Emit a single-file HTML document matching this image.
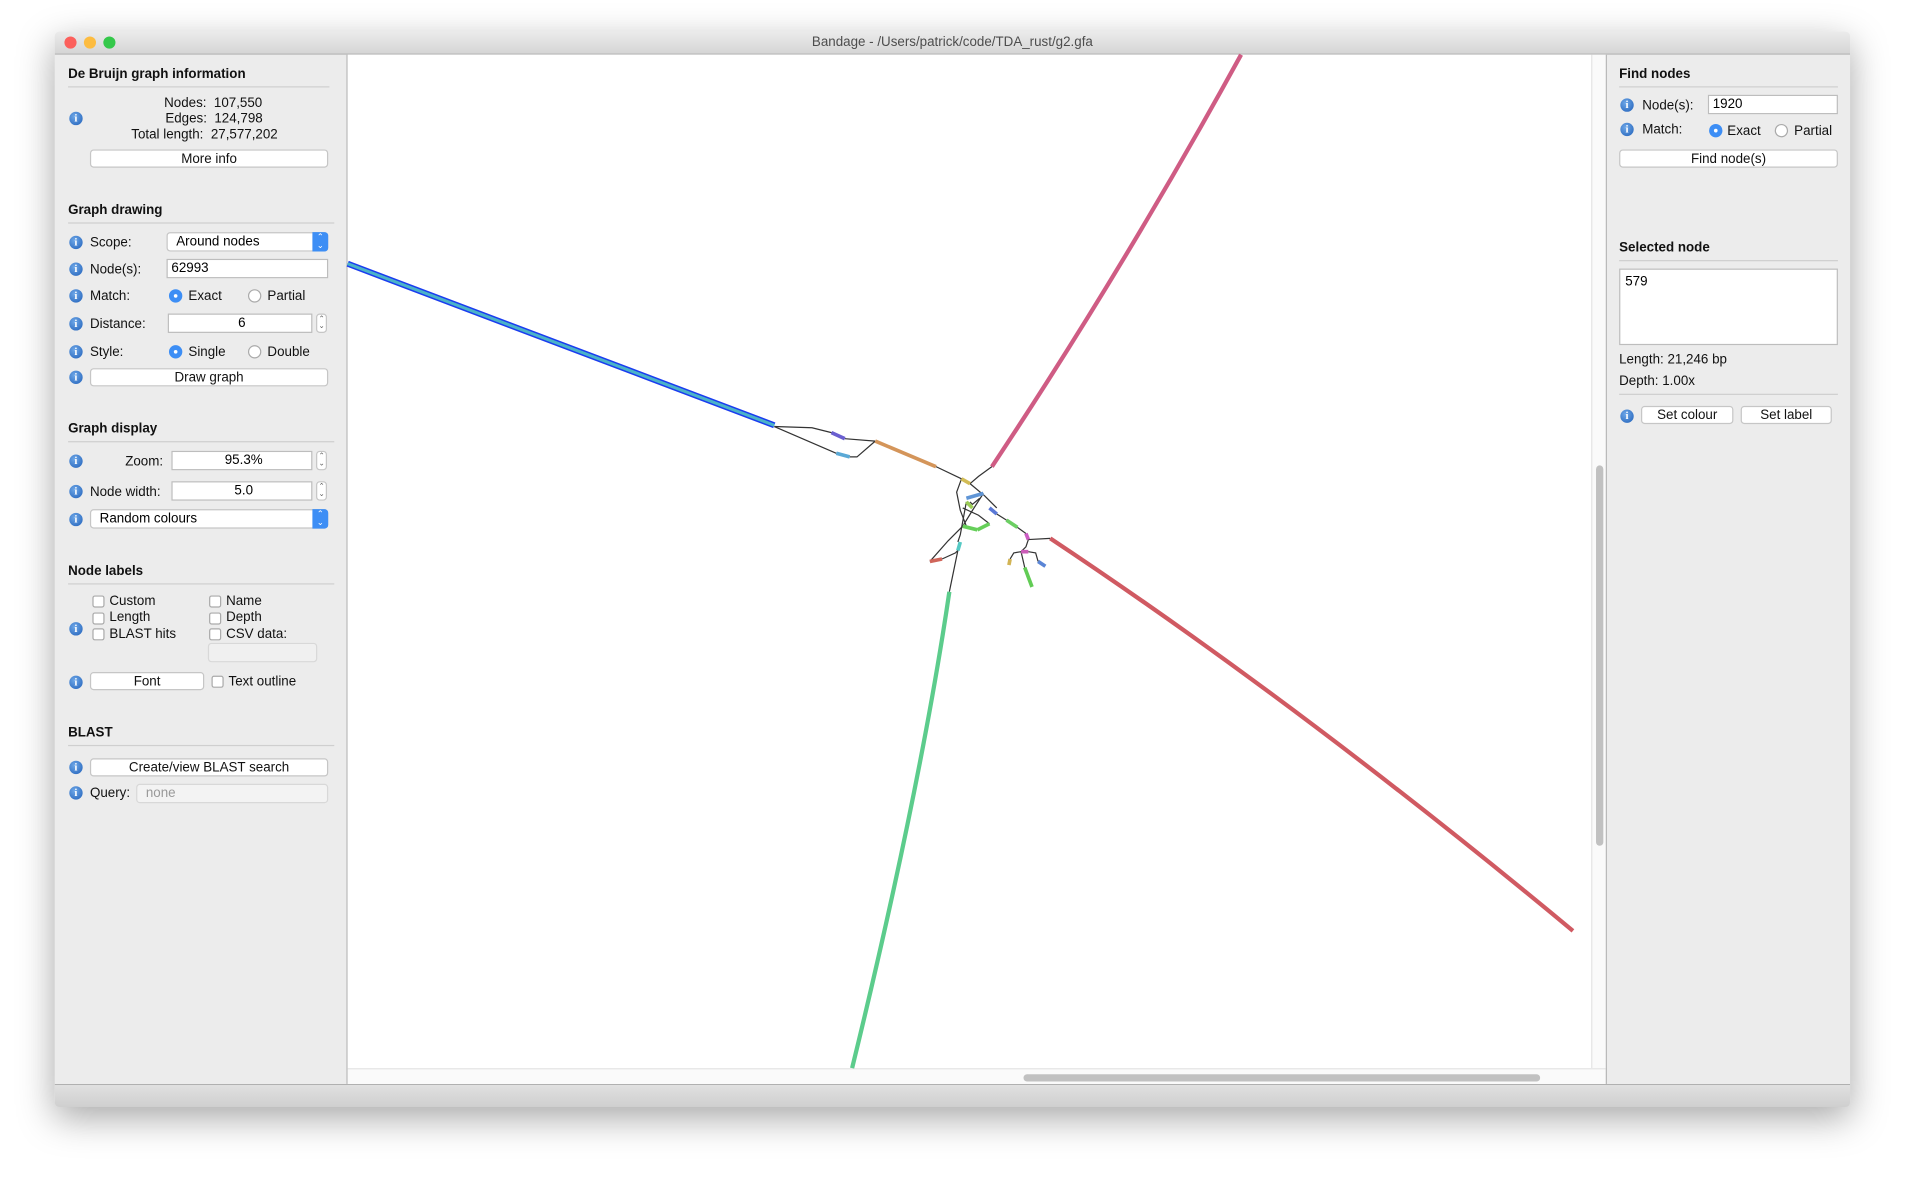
<!DOCTYPE html>
<html><head><meta charset="utf-8">
<style>
html,body{margin:0;padding:0;background:#fff;width:1906px;height:1186px;overflow:hidden;font-family:"Liberation Sans",sans-serif;}
#wrap{position:absolute;left:0;top:0;width:1568px;height:976px;transform:scale(1.21556,1.2152);transform-origin:0 0;}
#win{position:absolute;left:45px;top:26px;width:1477px;height:884px;background:#ececec;box-shadow:0 10px 30px rgba(0,0,0,0.35);border-radius:4px;overflow:hidden;}
#title{position:absolute;left:0;top:0;width:1477px;height:18px;background:linear-gradient(#ebebeb,#d5d5d5);border-bottom:1px solid #b8b8b8;font-size:11px;color:#4d4d4d;text-align:center;line-height:19px;}
.dot{position:absolute;top:4px;width:10px;height:10px;border-radius:50%;}
.a{position:absolute;font-size:11px;color:#111;white-space:nowrap;}
.h{position:absolute;font-size:11px;font-weight:bold;color:#111;}
.hr{position:absolute;height:1px;background:#cfcfcf;}
.info{position:absolute;width:11px;height:11px;border-radius:50%;background:radial-gradient(circle at 40% 35%,#6fa8e8,#1f5fb8);color:#fff;font-size:9px;font-weight:bold;text-align:center;line-height:11px;font-family:"Liberation Serif",serif;}
.btn{position:absolute;height:15px;background:#fff;border:1px solid #c6c6c6;border-radius:3px;font-size:11px;text-align:center;line-height:15px;color:#111;box-sizing:border-box;}
.inp{position:absolute;height:16px;background:#fff;border:1px solid #bdbdbd;font-size:11px;line-height:15px;box-sizing:border-box;padding-left:3px;}
.sel{position:absolute;height:16px;background:#fff;border:1px solid #c6c6c6;border-radius:3px;font-size:11px;line-height:15px;box-sizing:border-box;padding-left:7px;}
.selarr{position:absolute;right:-1px;top:-1px;width:13px;height:16px;background:#3d8ef5;border-radius:0 3px 3px 0;color:#fff;font-size:7px;line-height:7px;text-align:center;padding-top:1px;box-sizing:border-box;}
.radio{position:absolute;width:11px;height:11px;border-radius:50%;border:1px solid #aaa;background:#fff;box-sizing:border-box;}
.radio.on{background:#3d8ef5;border-color:#3d8ef5;}
.radio.on:after{content:"";position:absolute;left:3px;top:3px;width:3px;height:3px;border-radius:50%;background:#fff;}
.chk{position:absolute;width:10px;height:10px;border:1px solid #aaa;border-radius:2px;background:#fff;box-sizing:border-box;}
.spin{position:absolute;width:9px;height:16px;border:1px solid #c6c6c6;border-radius:3px;background:#fff;font-size:6px;line-height:6px;text-align:center;color:#555;box-sizing:border-box;padding-top:1px;}
</style></head><body>
<div id="wrap">
<div id="win">
 <div id="title">Bandage - /Users/patrick/code/TDA_rust/g2.gfa
  <div class="dot" style="left:8px;background:#fc605c"></div>
  <div class="dot" style="left:24px;background:#fdbc40"></div>
  <div class="dot" style="left:40px;background:#34c84a"></div>
 </div>
</div>
<!-- left panel (absolute in page coords) -->
<div>
 <div class="h" style="left:56px;top:55px">De Bruijn graph information</div>
 <div class="hr" style="left:56px;top:71px;width:215px"></div>
 <div class="info" style="left:57px;top:92px">i</div>
 <div class="a" style="left:135px;top:79px">Nodes:&nbsp; 107,550</div>
 <div class="a" style="left:136px;top:92px">Edges:&nbsp; 124,798</div>
 <div class="a" style="left:108px;top:105px">Total length:&nbsp; 27,577,202</div>
 <div class="btn" style="left:74px;top:123px;width:196px">More info</div>

 <div class="h" style="left:56px;top:167px">Graph drawing</div>
 <div class="hr" style="left:56px;top:183px;width:219px"></div>
 <div class="info" style="left:57px;top:194px">i</div><div class="a" style="left:74px;top:194px">Scope:</div>
 <div class="sel" style="left:137px;top:191px;width:133px">Around nodes<div class="selarr">⌃<br>⌄</div></div>
 <div class="info" style="left:57px;top:216px">i</div><div class="a" style="left:74px;top:216px">Node(s):</div>
 <div class="inp" style="left:137px;top:213px;width:133px">62993</div>
 <div class="info" style="left:57px;top:238px">i</div><div class="a" style="left:74px;top:238px">Match:</div>
 <div class="radio on" style="left:139px;top:238px"></div><div class="a" style="left:155px;top:238px">Exact</div>
 <div class="radio" style="left:204px;top:238px"></div><div class="a" style="left:220px;top:238px">Partial</div>
 <div class="info" style="left:57px;top:261px">i</div><div class="a" style="left:74px;top:261px">Distance:</div>
 <div class="inp" style="left:138px;top:258px;width:119px;text-align:center">6</div>
 <div class="spin" style="left:260px;top:258px">⌃<br>⌄</div>
 <div class="info" style="left:57px;top:284px">i</div><div class="a" style="left:74px;top:284px">Style:</div>
 <div class="radio on" style="left:139px;top:284px"></div><div class="a" style="left:155px;top:284px">Single</div>
 <div class="radio" style="left:204px;top:284px"></div><div class="a" style="left:220px;top:284px">Double</div>
 <div class="info" style="left:57px;top:305px">i</div>
 <div class="btn" style="left:74px;top:303px;width:196px">Draw graph</div>

 <div class="h" style="left:56px;top:347px">Graph display</div>
 <div class="hr" style="left:56px;top:363px;width:219px"></div>
 <div class="info" style="left:57px;top:374px">i</div><div class="a" style="left:103px;top:374px">Zoom:</div>
 <div class="inp" style="left:141px;top:371px;width:116px;text-align:center">95.3%</div>
 <div class="spin" style="left:260px;top:371px">⌃<br>⌄</div>
 <div class="info" style="left:57px;top:399px">i</div><div class="a" style="left:74px;top:399px">Node width:</div>
 <div class="inp" style="left:141px;top:396px;width:116px;text-align:center">5.0</div>
 <div class="spin" style="left:260px;top:396px">⌃<br>⌄</div>
 <div class="info" style="left:57px;top:422px">i</div>
 <div class="sel" style="left:74px;top:419px;width:196px">Random colours<div class="selarr">⌃<br>⌄</div></div>

 <div class="h" style="left:56px;top:464px">Node labels</div>
 <div class="hr" style="left:56px;top:480px;width:219px"></div>
 <div class="chk" style="left:76px;top:490px"></div><div class="a" style="left:90px;top:489px">Custom</div>
 <div class="chk" style="left:76px;top:504px"></div><div class="a" style="left:90px;top:502px">Length</div>
 <div class="chk" style="left:76px;top:517px"></div><div class="a" style="left:90px;top:516px">BLAST hits</div>
 <div class="chk" style="left:172px;top:490px"></div><div class="a" style="left:186px;top:489px">Name</div>
 <div class="chk" style="left:172px;top:504px"></div><div class="a" style="left:186px;top:502px">Depth</div>
 <div class="chk" style="left:172px;top:517px"></div><div class="a" style="left:186px;top:516px">CSV data:</div>
 <div class="info" style="left:57px;top:512px">i</div>
 <div class="sel" style="left:171px;top:529px;width:90px;background:#f0f0f0;border-color:#d8d8d8"></div>
 <div class="info" style="left:57px;top:556px">i</div>
 <div class="btn" style="left:74px;top:553px;width:94px">Font</div>
 <div class="chk" style="left:174px;top:556px"></div><div class="a" style="left:188px;top:555px">Text outline</div>

 <div class="h" style="left:56px;top:597px">BLAST</div>
 <div class="hr" style="left:56px;top:613px;width:219px"></div>
 <div class="info" style="left:57px;top:626px">i</div>
 <div class="btn" style="left:74px;top:624px;width:196px">Create/view BLAST search</div>
 <div class="info" style="left:57px;top:647px">i</div><div class="a" style="left:74px;top:647px">Query:</div>
 <div class="sel" style="left:112px;top:645px;width:158px;background:#f3f3f3;color:#999;border-color:#d8d8d8">none</div>
</div>
<div style="position:absolute;left:285px;top:45px;width:1px;height:847px;background:#b8b8b8"></div>
<!-- canvas -->
<div style="position:absolute;left:286px;top:45px;width:1023px;height:834px;background:#fff"></div>
<div style="position:absolute;left:1309px;top:45px;width:12px;height:834px;background:#fafafa;border-left:1px solid #e5e5e5"><div style="position:absolute;left:3px;top:338px;width:6px;height:313px;border-radius:3px;background:#c1c1c1"></div></div>
<div style="position:absolute;left:286px;top:879px;width:1035px;height:13px;background:#fafafa;border-top:1px solid #e5e5e5"><div style="position:absolute;left:556px;top:4px;width:425px;height:6px;border-radius:3px;background:#c1c1c1"></div></div>
<div style="position:absolute;left:1321px;top:45px;width:1px;height:847px;background:#b8b8b8"></div>
<div style="position:absolute;left:45px;top:892px;width:1477px;height:18px;background:linear-gradient(#e0e0e0,#cfcfcf);border-top:1px solid #b0b0b0;border-radius:0 0 4px 4px"></div>
<svg id="g" style="position:absolute;left:0;top:0" width="1568" height="976"></svg>
<!-- right panel -->
<div>
 <div class="h" style="left:1332px;top:55px">Find nodes</div>
 <div class="hr" style="left:1332px;top:71px;width:180px"></div>
 <div class="info" style="left:1333px;top:81px">i</div><div class="a" style="left:1351px;top:81px">Node(s):</div>
 <div class="inp" style="left:1405px;top:78px;width:107px">1920</div>
 <div class="info" style="left:1333px;top:101px">i</div><div class="a" style="left:1351px;top:101px">Match:</div>
 <div class="radio on" style="left:1406px;top:102px"></div><div class="a" style="left:1421px;top:102px">Exact</div>
 <div class="radio" style="left:1460px;top:102px"></div><div class="a" style="left:1476px;top:102px">Partial</div>
 <div class="btn" style="left:1332px;top:123px;width:180px">Find node(s)</div>
 <div class="h" style="left:1332px;top:198px">Selected node</div>
 <div class="hr" style="left:1332px;top:214px;width:180px"></div>
 <div style="position:absolute;left:1332px;top:221px;width:180px;height:63px;background:#fff;border:1px solid #bdbdbd;box-sizing:border-box;font-size:11px;padding:4px 0 0 4px">579</div>
 <div class="a" style="left:1332px;top:290px">Length: 21,246 bp</div>
 <div class="a" style="left:1332px;top:308px">Depth: 1.00x</div>
 <div class="hr" style="left:1332px;top:324px;width:180px"></div>
 <div class="info" style="left:1333px;top:337px">i</div>
 <div class="btn" style="left:1350px;top:334px;width:76px">Set colour</div>
 <div class="btn" style="left:1432px;top:334px;width:75px">Set label</div>
</div>
</div>
<script>
// edges: polyline coordinates in graph units (display px)
const edgeX = [[637,668,684],[637,688],[695,720],[699,705,720],[770,791],[798,805,816],[798,810,820],[791,787,790,795],[809,800,792],[795,790,788],[820,828],[814,805,792],[792,780,765],[775,786,788],[788,781],[837,844],[846,864],[846,844,840],[840,834,831],[846,852,854],[840,843],[806,800,798]];
const edgeY = [[351,352,356],[351,373],[361,363],[376,376,363],[384,394],[398,392,384],[398,408,418],[394,405,420,433],[406,420,433],[413,440,446],[423,428],[431,424,418],[433,445,462],[460,455,453],[453,487],[434,439],[444,443],[444,450,454],[454,455,460],[454,455,462],[454,467],[410,415,413]];
// colored node segments: x1,y1,x2,y2
const nodeX1=[286,684,688,720,791,795,795,814,828,792,804,844,840,831,854,843,765,790,816,864,781];
const nodeY1=[217,356,373,363,394,410,413,418,428,433,436,439,454,460,462,467,462,446,384,443,487];
const nodeX2=[637,695,699,770,798,809,800,820,837,804,814,846,846,830,860,849,775,788,1021,1294,701];
const nodeY2=[350,361,376,384,398,406,418,423,434,436,431,444,454,465,466,483,460,453,45,766,879];
const nodeCurve=[0,0,0,0,0,0,0,0,0,0,0,0,0,0,0,0,0,0,[925,220],[1070,580],[757,650]];
const nodeW=[4,3,3,3,3,3,3,3,3,3,3,3,3,3,3,3,3,3,3.5,3.5,3.5];
const nodeColor=["#4bb3c9","#6a5fd0","#5aa9d6","#d4955a","#d2bc55","#5f95d6","#9bcc55","#5a78d6","#6ccf63","#66cf5a","#66cf5a","#cc5cc4","#cc5cb8","#d2b455","#5a85d6","#62cc55","#d0655a","#55c9c4","#cf5c84","#d05a62","#5ccc8c"];
const svg=document.getElementById('g');const NS='http://www.w3.org/2000/svg';
const ox=0,oy=0;function sx(v){return v+ox;}function sy(v){return v+oy;}
for(let i=0;i<edgeX.length;i++){
 const p=document.createElementNS(NS,'polyline');
 p.setAttribute('points',edgeX[i].map((x,j)=>sx(x)+','+sy(edgeY[i][j])).join(' '));
 p.setAttribute('fill','none');p.setAttribute('stroke','#333');p.setAttribute('stroke-width','1');
 
 
 svg.appendChild(p);
}
for(let i=0;i<nodeX1.length;i++){
 const p=document.createElementNS(NS,'path');
 let d='M'+sx(nodeX1[i])+' '+sy(nodeY1[i]);
 if(nodeCurve[i]) d+=' Q'+sx(nodeCurve[i][0])+' '+sy(nodeCurve[i][1])+' ';
 else d+=' L';
 d+=sx(nodeX2[i])+' '+sy(nodeY2[i]);
 p.setAttribute('d',d);p.setAttribute('fill','none');
 if(i===0){
  const o=document.createElementNS(NS,'path');o.setAttribute('d',d);o.setAttribute('stroke','#1a3cf0');o.setAttribute('stroke-width','5');o.setAttribute('fill','none');
  
  
  svg.appendChild(o);
  p.setAttribute('stroke-width','2.5');
 } else p.setAttribute('stroke-width',nodeW[i]);
 p.setAttribute('stroke',nodeColor[i]);
 
 
 svg.appendChild(p);
}
</script>
</body></html>
